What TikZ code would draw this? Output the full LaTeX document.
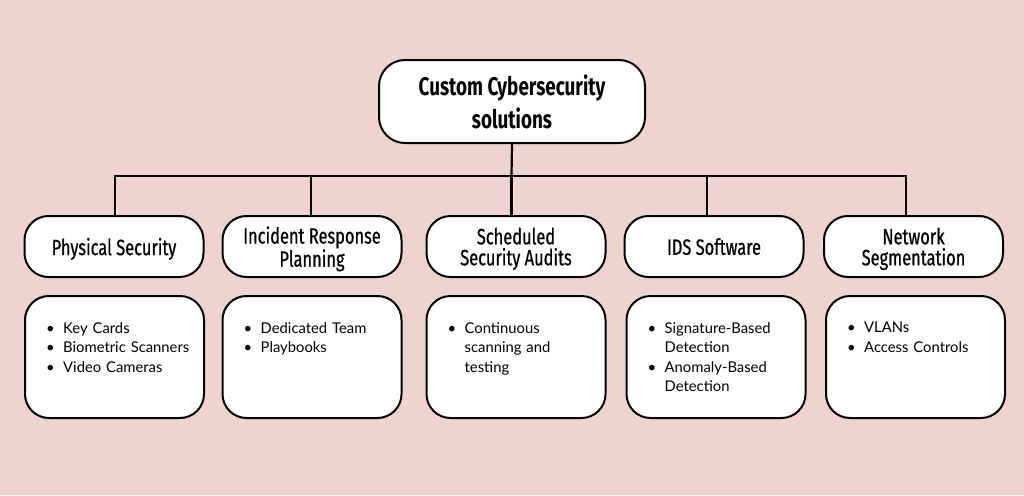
\documentclass[tikz,border=0pt]{standalone}
\usepackage{fontspec}
\setmainfont{Lato}
\newfontfamily\headfont[FakeStretch=0.74]{Fira Sans}
\newfontfamily\subfont[FakeStretch=0.74, FakeBold=0.6]{Fira Sans}
\usepackage{tikz}
\definecolor{backpink}{RGB}{238,211,207}
\tikzstyle{Title}=[shape=rectangle, rounded corners=26pt, fill=white, draw=black, line width=2pt, minimum width=266pt, minimum height=83pt, align=center, font=\headfont\bfseries\fontsize{25.5}{33}\selectfont]
\tikzstyle{Header}=[shape=rectangle, rounded corners=24pt, fill=white, draw=black, line width=2pt, minimum width=179pt, minimum height=61pt, align=center, text depth=0pt, font=\subfont\fontsize{22.2}{21}\selectfont]
\tikzstyle{Content}=[shape=rectangle, rounded corners=24pt, fill=white, draw=black, line width=2pt, minimum width=179pt, minimum height=122pt]
\tikzstyle{List}=[anchor=north west, inner sep=0pt, text width=160pt, align=left, font=\fontsize{14.8}{19.5}\selectfont]
\tikzstyle{link}=[line width=2.2pt, draw=black]
\newcommand{\bul}[1]{\hangindent=17pt\hangafter=1\noindent\makebox[17pt][l]{\textbullet}#1\par}

\begin{document}
\begin{tikzpicture}[x=1pt, y=-1pt]
	\fill [backpink] (0,0) rectangle (1024,495);
	\useasboundingbox (0,0) rectangle (1024,495);

	\node [style=Title] (title) at (512, 101.5) {Custom Cybersecurity\\solutions};

	% headers
	\node [style=Header] (physical) at (114, 246.5) {Physical Security};
	\node [style=Header] (incident) at (312, 246.5) {Incident Response\\Planning};
	\node [style=Header] (audits) at (516, 246.5) {Scheduled\\Security Audits};
	\node [style=Header] (ids) at (714, 246.5) {IDS Software};
	\node [style=Header] (netseg) at (913.5, 246.5) {Network\\Segmentation};

	% content boxes
	\node [style=Content] (physicalbox) at (114.5, 357) {};
	\node [style=Content] (incidentbox) at (312, 357) {};
	\node [style=Content] (auditsbox) at (516, 357) {};
	\node [style=Content] (idsbox) at (716, 357) {};
	\node [style=Content] (netsegbox) at (915.5, 357) {};

	\node [style=List] (physicallist) at ([xshift=22pt, yshift=-27pt]physicalbox.north west) {\bul{Key Cards}\bul{Biometric Scanners}\bul{Video Cameras}};
	\node [style=List] (incidentlist) at ([xshift=22pt, yshift=-27pt]incidentbox.north west) {\bul{Dedicated Team}\bul{Playbooks}};
	\node [style=List] (auditslist) at ([xshift=22pt, yshift=-27pt]auditsbox.north west) {\bul{Continuous\newline scanning and\newline testing}};
	\node [style=List] (idslist) at ([xshift=22pt, yshift=-27pt]idsbox.north west) {\bul{Signature-Based\newline Detection}\bul{Anomaly-Based\newline Detection}};
	\node [style=List] (netseglist) at ([xshift=22pt, yshift=-27pt]netsegbox.north west) {\bul{VLANs}\bul{Access Controls}};

	% connectors
	\coordinate (junction) at (511.5, 176);
	\draw [style=link] (title.south) -- (junction);
	\draw [style=link] (junction) -| ([xshift=1pt]physical.north);
	\draw [style=link] (junction) -| ([xshift=-1pt]incident.north);
	\draw [style=link] (junction) -- ([xshift=-4.5pt]audits.north);
	\draw [style=link] (junction) -| ([xshift=-7pt]ids.north);
	\draw [style=link] (junction) -| ([xshift=-7.5pt]netseg.north);
\end{tikzpicture}
\end{document}
